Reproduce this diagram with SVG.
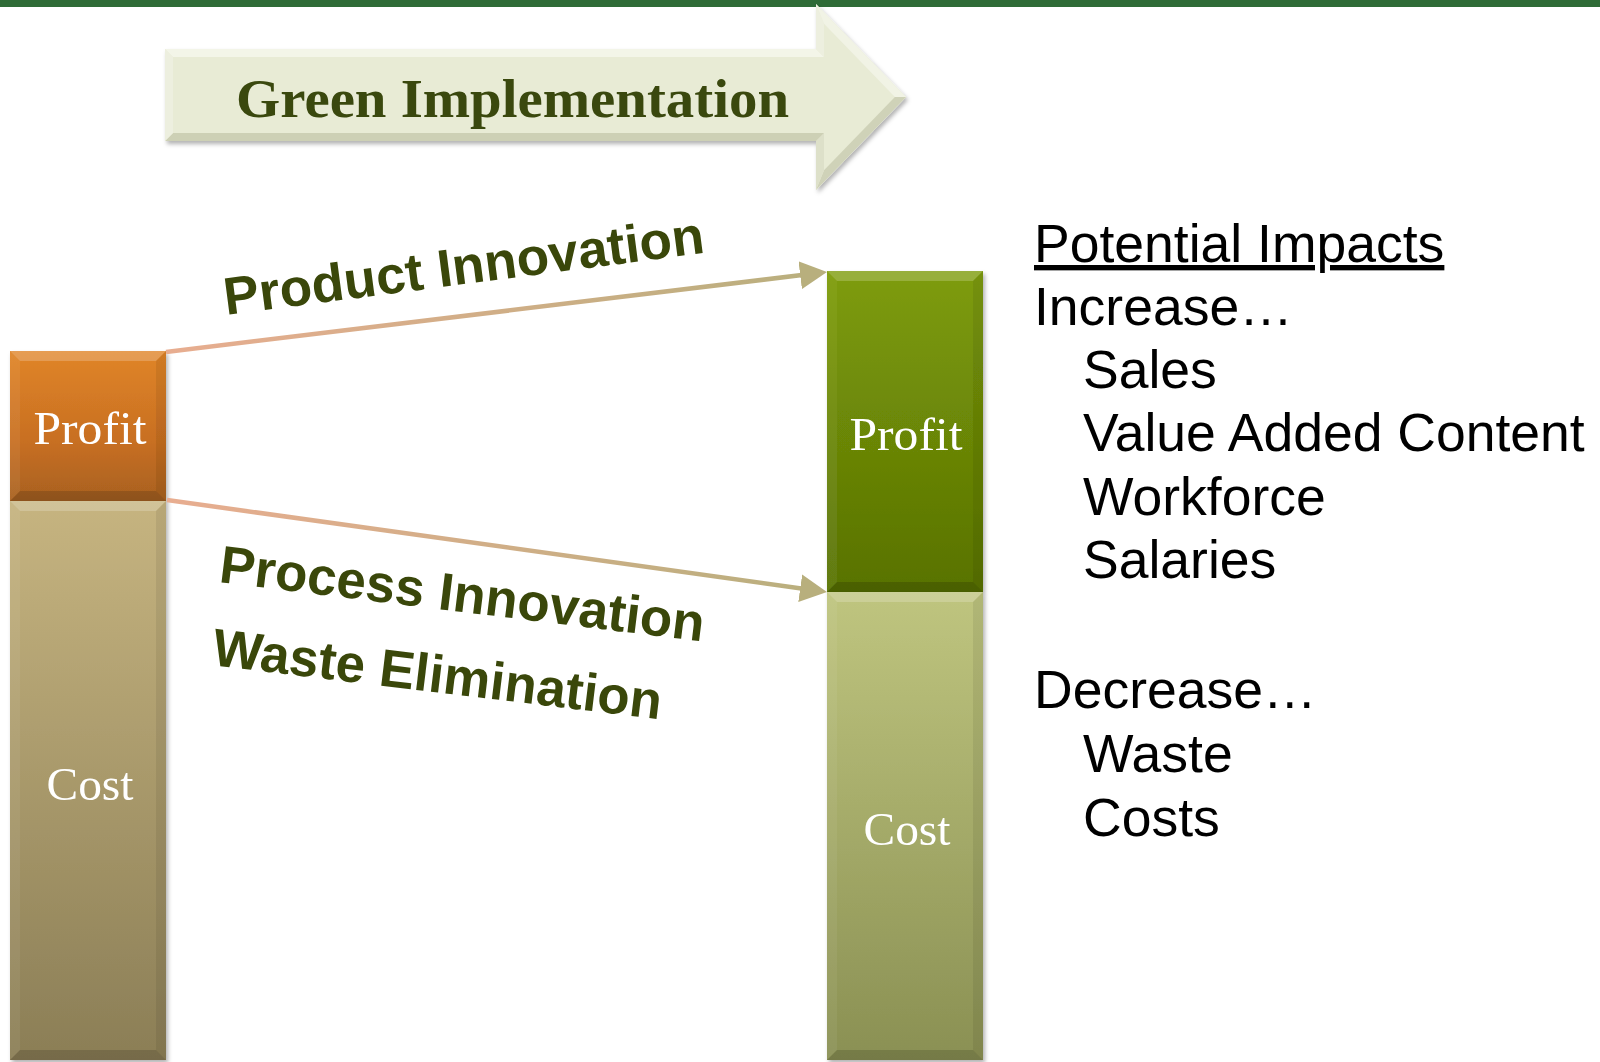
<svg xmlns="http://www.w3.org/2000/svg" width="1600" height="1062" viewBox="0 0 1600 1062">
<defs>
<style>
.lbl{font-family:"Liberation Serif","Times New Roman",serif;font-size:46px;fill:#fff;text-anchor:middle}
.rot{font-family:"Liberation Sans",Arial,sans-serif;font-weight:bold;font-size:53px;fill:#3A470A}
.imp{font-family:"Liberation Sans",Arial,sans-serif;font-size:53.5px;fill:#000}
.hd{font-family:"Liberation Serif","Times New Roman",serif;font-weight:bold;font-size:54px;fill:#3A480E}
.bl{fill:#fff;opacity:.2}
.bs{fill:#fff;opacity:.06}
.bd{fill:#000;opacity:.07}
.bb{fill:#000;opacity:.15}
.con{fill:none;stroke-width:4.5}
</style>
<linearGradient id="gOr" x1="0" y1="0" x2="0" y2="1"><stop offset="0" stop-color="#E08528"/><stop offset="0.6" stop-color="#C86F22"/><stop offset="1" stop-color="#A8611F"/></linearGradient>
<linearGradient id="gCL" x1="0" y1="0" x2="0" y2="1"><stop offset="0" stop-color="#C6B480"/><stop offset="1" stop-color="#8B7E56"/></linearGradient>
<linearGradient id="gPR" x1="0" y1="0" x2="0" y2="1"><stop offset="0" stop-color="#7E9C0A"/><stop offset="1" stop-color="#587203"/></linearGradient>
<linearGradient id="gCR" x1="0" y1="0" x2="0" y2="1"><stop offset="0" stop-color="#BFC57F"/><stop offset="1" stop-color="#8A9053"/></linearGradient>
<linearGradient id="gL1" gradientUnits="userSpaceOnUse" x1="166" y1="352" x2="827" y2="272"><stop offset="0" stop-color="#E8AD90"/><stop offset="1" stop-color="#B8AF7D"/></linearGradient>
<linearGradient id="gL2" gradientUnits="userSpaceOnUse" x1="167" y1="500" x2="827" y2="592"><stop offset="0" stop-color="#E8AD90"/><stop offset="1" stop-color="#B8AF7D"/></linearGradient>
<filter id="sh" x="-10%" y="-10%" width="130%" height="130%"><feDropShadow dx="2" dy="3" stdDeviation="2" flood-color="#000" flood-opacity="0.3"/></filter>
<marker id="ah" markerUnits="userSpaceOnUse" markerWidth="27" markerHeight="28" refX="12" refY="14" orient="auto" viewBox="0 0 27 28"><path d="M0,0 L27,14 L0,28 z" fill="#B8AF7D"/></marker>
</defs>
<rect x="0" y="0" width="1600" height="1062" fill="#fff"/>
<rect x="0" y="0" width="1600" height="7" fill="#2F6B37"/>

<g id="green-implementation">
<g filter="url(#sh)">
<polygon points="165,49 816,49 816,4 906,97 816,190 816,141 165,141" fill="#E8EBD5"/>
</g>
<polygon points="165,49 816,49 824,57 173,57" fill="#F3F5E8"/>
<polygon points="816,49 816,4 824,23.8 824,57" fill="#EDEFDF"/>
<polygon points="816,4 906,97 894.9,97 824,23.8" fill="#F1F3E5"/>
<polygon points="906,97 816,190 824,170.2 894.9,97" fill="#CFD2B8"/>
<polygon points="816,190 816,141 824,133 824,170.2" fill="#DDE0C9"/>
<polygon points="816,141 165,141 173,133 824,133" fill="#CDD0B5"/>
<polygon points="165,141 165,49 173,57 173,133" fill="#EDEFDF"/>
<text class="hd" x="236" y="117" textLength="553" lengthAdjust="spacingAndGlyphs">Green Implementation</text>
</g>

<g id="profit-before" filter="url(#sh)">
<rect x="10" y="351" width="156" height="150" fill="url(#gOr)"/>
<polygon class="bl" points="10,351 166,351 156,361 20,361"/>
<polygon class="bs" points="10,351 20,361 20,491 10,501"/>
<polygon class="bd" points="166,351 166,501 156,491 156,361"/>
<polygon class="bb" points="10,501 20,491 156,491 166,501"/>
<text class="lbl" x="90" y="444" textLength="113" lengthAdjust="spacingAndGlyphs">Profit</text>
</g>

<g id="cost-before" filter="url(#sh)">
<rect x="10" y="501" width="156" height="559" fill="url(#gCL)"/>
<polygon class="bl" points="10,501 166,501 156,511 20,511"/>
<polygon class="bs" points="10,501 20,511 20,1050 10,1060"/>
<polygon class="bd" points="166,501 166,1060 156,1050 156,511"/>
<polygon class="bb" points="10,1060 20,1050 156,1050 166,1060"/>
<text class="lbl" x="90" y="800" textLength="87" lengthAdjust="spacingAndGlyphs">Cost</text>
</g>

<g id="profit-after" filter="url(#sh)">
<rect x="827" y="271" width="156" height="321" fill="url(#gPR)"/>
<polygon class="bl" points="827,271 983,271 973,281 837,281"/>
<polygon class="bs" points="827,271 837,281 837,582 827,592"/>
<polygon class="bd" points="983,271 983,592 973,582 973,281"/>
<polygon class="bb" points="827,592 837,582 973,582 983,592"/>
<text class="lbl" x="906" y="450" textLength="113" lengthAdjust="spacingAndGlyphs">Profit</text>
</g>

<g id="cost-after" filter="url(#sh)">
<rect x="827" y="592" width="156" height="468" fill="url(#gCR)"/>
<polygon class="bl" points="827,592 983,592 973,602 837,602"/>
<polygon class="bs" points="827,592 837,602 837,1050 827,1060"/>
<polygon class="bd" points="983,592 983,1060 973,1050 973,602"/>
<polygon class="bb" points="827,1060 837,1050 973,1050 983,1060"/>
<text class="lbl" x="907" y="845" textLength="87" lengthAdjust="spacingAndGlyphs">Cost</text>
</g>

<g id="connectors">
<line class="con" x1="166" y1="352" x2="812.1" y2="273.8" stroke="url(#gL1)" marker-end="url(#ah)"/>
<line class="con" x1="167" y1="500" x2="812.1" y2="589.9" stroke="url(#gL2)" marker-end="url(#ah)"/>
</g>

<g id="connector-labels">
<text class="rot" transform="translate(226,315) rotate(-7.4)" textLength="484" lengthAdjust="spacingAndGlyphs">Product Innovation</text>
<text class="rot" transform="translate(218,582) rotate(7)" textLength="488" lengthAdjust="spacingAndGlyphs">Process Innovation</text>
<text class="rot" transform="translate(211,665) rotate(6.9)" textLength="452" lengthAdjust="spacingAndGlyphs">Waste Elimination</text>
</g>

<g id="potential-impacts">
<text class="imp" x="1034" y="262" text-decoration="underline">Potential Impacts</text>
<text class="imp" x="1034" y="325">Increase…</text>
<text class="imp" x="1083" y="388">Sales</text>
<text class="imp" x="1083" y="451">Value Added Content</text>
<text class="imp" x="1083" y="515">Workforce</text>
<text class="imp" x="1083" y="578">Salaries</text>
<text class="imp" x="1034" y="708">Decrease…</text>
<text class="imp" x="1083" y="772">Waste</text>
<text class="imp" x="1083" y="836">Costs</text>
</g>
</svg>
